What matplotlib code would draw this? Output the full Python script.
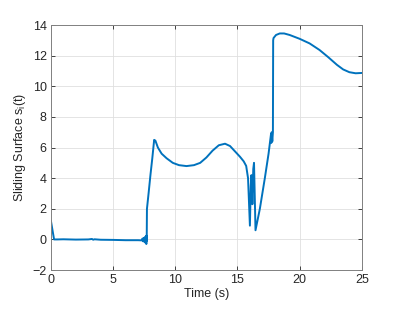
import matplotlib
matplotlib.use("Agg")
import matplotlib.pyplot as plt

plt.rcParams['font.family'] = ['Liberation Sans', 'DejaVu Sans']

# time (s) and sliding surface value
t = [0.0, 0.25, 0.5, 1.0, 2.0, 3.0, 3.3, 3.4, 3.5, 4.0, 5.0, 6.0, 7.0, 7.3,
     7.35, 7.4, 7.45, 7.5, 7.55, 7.6, 7.64, 7.67, 7.69, 7.7,
     7.72, 7.85, 8.0, 8.15, 8.3, 8.4, 8.6, 8.9, 9.3, 9.8, 10.3, 10.9, 11.5, 12.0,
     12.5, 13.0, 13.5, 14.0, 14.4, 14.8, 15.2, 15.5, 15.7, 15.85, 16.0, 16.07,
     16.12, 16.2, 16.27, 16.33, 16.45, 16.8, 17.2, 17.5, 17.7, 17.72, 17.75,
     17.8, 17.85, 17.87, 17.9, 18.1, 18.4, 18.75, 19.2, 20.0, 20.8, 21.6, 22.3,
     23.0, 23.5, 24.0, 24.5, 25.0]
s = [1.2, 0.0, 0.0, 0.01, -0.01, 0.0, 0.03, -0.02, 0.01, -0.02, -0.03, -0.05, -0.05, -0.06,
     0.05, -0.12, 0.1, -0.15, 0.15, -0.22, 0.22, -0.3, 0.25, -0.1,
     2.0, 3.0, 4.2, 5.3, 6.5, 6.45, 6.0, 5.6, 5.3, 5.0, 4.85, 4.79, 4.85, 5.0,
     5.35, 5.8, 6.15, 6.25, 6.1, 5.75, 5.4, 5.1, 4.8, 4.0, 0.9, 3.5,
     4.2, 2.3, 4.6, 5.0, 0.6, 2.0, 4.0, 5.6, 6.9, 6.3, 7.0,
     6.4, 7.0, 13.0, 13.15, 13.35, 13.45, 13.45, 13.35, 13.1, 12.8, 12.37, 11.9,
     11.4, 11.1, 10.92, 10.85, 10.87]

fig = plt.figure(figsize=(3.95, 3.09), dpi=100)
ax = fig.add_axes([0.129, 0.126, 0.787, 0.793])

ax.plot(t, s, color='#0072BD', linewidth=1.4)

ax.set_xlim(0, 25)
ax.set_ylim(-2, 14)
ax.set_xticks([0, 5, 10, 15, 20, 25])
ax.set_yticks(range(-2, 15, 2))
ax.grid(True, color='#DFDFDF', linewidth=0.6)
ax.set_axisbelow(True)
ax.tick_params(direction='in', length=3, width=0.6, colors='#262626', labelsize=9,
               top=True, right=True, pad=3)
for sp in ax.spines.values():
    sp.set_color('#808080')
    sp.set_linewidth(0.7)

ax.set_xlabel('Time (s)', fontsize=9, color='#262626', labelpad=1)
ax.set_ylabel('Sliding Surface s$_\\mathregular{i}$(t)', fontsize=9, color='#262626', labelpad=3)

plt.savefig('out.png', dpi=100)
plt.close()
